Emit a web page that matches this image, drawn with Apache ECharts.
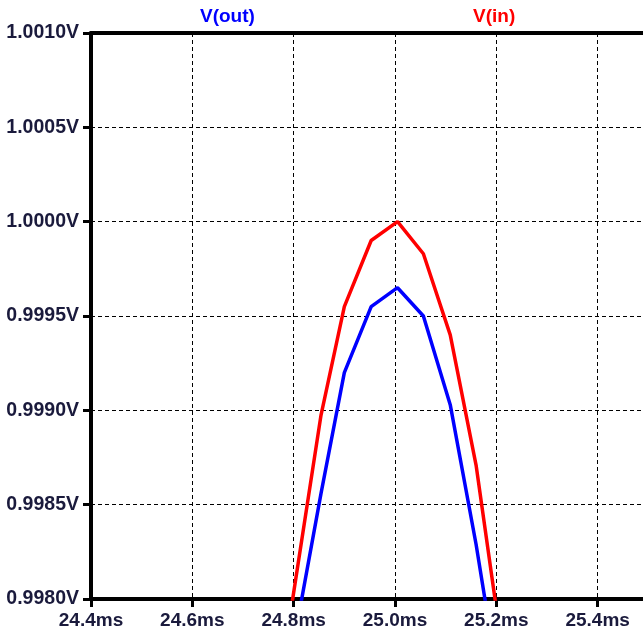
<!DOCTYPE html>
<html>
<head>
<meta charset="utf-8">
<script src="https://cdn.jsdelivr.net/npm/echarts@6/dist/echarts.min.js"></script>
<style>
html,body{margin:0;padding:0;background:#fff;overflow:hidden;}
#chart{width:643px;height:636px;}
</style>
</head>
<body>
<div id="chart"></div>
<script>
// time in ms
var timeMs = [24.79, 24.854, 24.90, 24.953, 25.005, 25.056, 25.109, 25.16, 25.21];
var vIn  = [0.99786, 0.998975, 0.99955, 0.99990, 1.00000, 0.99983, 0.99940, 0.99871, 0.99776];
var vOut = [0.99762, 0.99856, 0.99920, 0.99955, 0.99965, 0.99950, 0.99903, 0.99829, 0.99746];
var seriesNames = ['V(out)', 'V(in)'];
var xTicks = {min: 24.4, max: 25.6, interval: 0.2};
var yTicks = {min: 0.9980, max: 1.0010, interval: 0.0005};

function pairs(xs, ys){ return xs.map(function(x,i){ return [x, ys[i]]; }); }

var labelColor = '#1a1a3c';
var font = "'Liberation Sans', Arial, sans-serif";

var chart = echarts.init(document.getElementById('chart'));
chart.setOption({
  animation: false,
  backgroundColor: '#ffffff',
  grid: {left: 91, top: 33, width: 608, height: 566, containLabel: false, outerBoundsMode: 'none'},
  graphic: [
    {type: 'text', left: 229 - 29, top: 7, style: {text: seriesNames[0], fill: '#0000ff', font: "bold 19px " + font}},
    {type: 'text', left: 497 - 24, top: 7, style: {text: seriesNames[1], fill: '#ff0000', font: "bold 19px " + font}}
  ],
  xAxis: [{
    type: 'value',
    min: xTicks.min, max: xTicks.max, interval: xTicks.interval,
    axisLine: {show: true, lineStyle: {color: '#000', width: 4}},
    axisTick: {show: true, length: 8, lineStyle: {color: '#000', width: 3}},
    axisLabel: {
      margin: 12, color: labelColor, fontFamily: font, fontWeight: 'bold', fontSize: 19,
      formatter: function(v){ return v.toFixed(1) + 'ms'; }
    },
    splitLine: {show: true, lineStyle: {color: '#000', width: 1, type: [4, 3]}}
  }, {
    type: 'value', position: 'top',
    min: xTicks.min, max: xTicks.max, interval: xTicks.interval,
    axisLine: {show: true, lineStyle: {color: '#000', width: 4}},
    axisTick: {show: false}, axisLabel: {show: false}, splitLine: {show: false}
  }],
  yAxis: {
    type: 'value',
    min: yTicks.min, max: yTicks.max, interval: yTicks.interval,
    axisLine: {show: true, lineStyle: {color: '#000', width: 4}},
    axisTick: {show: true, length: 8, lineStyle: {color: '#000', width: 3}},
    axisLabel: {
      margin: 12, color: labelColor, fontFamily: font, fontWeight: 'bold', fontSize: 19.5,
      formatter: function(v){ return v.toFixed(4) + 'V'; }
    },
    splitLine: {show: true, lineStyle: {color: '#000', width: 1, type: [4, 3]}}
  },
  series: [
    {name: seriesNames[0], type: 'line', data: pairs(timeMs, vOut), showSymbol: false,
     lineStyle: {color: '#0000ff', width: 3.5}, itemStyle: {color: '#0000ff'}, clip: true},
    {name: seriesNames[1], type: 'line', data: pairs(timeMs, vIn), showSymbol: false,
     lineStyle: {color: '#ff0000', width: 3.5}, itemStyle: {color: '#ff0000'}, clip: true}
  ]
});
</script>
</body>
</html>
